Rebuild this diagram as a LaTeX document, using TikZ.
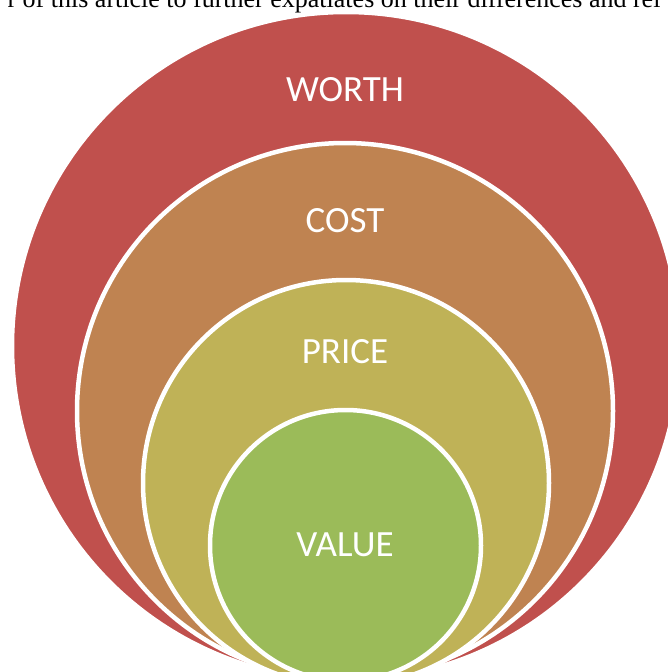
\documentclass[tikz,border=0pt]{standalone}
\usepackage{fontspec}
\setmainfont{Carlito}
\newfontfamily\serifline{Liberation Serif}
\definecolor{worthred}{RGB}{192,80,77}
\definecolor{costbrown}{RGB}{191,131,81}
\definecolor{priceolive}{RGB}{191,178,87}
\definecolor{valuegreen}{RGB}{155,187,89}
\begin{document}
\begin{tikzpicture}[x=1pt,y=-1pt,
  ring/.style={circle,draw=white,line width=4.5pt,inner sep=0pt,outer sep=0pt},
  lbl/.style={text=white,font=\fontsize{37}{40}\selectfont,inner sep=0pt}]
\useasboundingbox (0,0) rectangle (668,672);
\clip (0,0) rectangle (668,672);
\node[anchor=base,inner sep=0pt,font=\serifline\fontsize{26}{28}\selectfont] (topline) at (334,7) {r of this article to further expatiates on their differences and rel};
\node[ring,fill=worthred,minimum size=668pt] (worth) at (346,346) {};
\node[ring,fill=costbrown,minimum size=536pt] (cost) at (345,411) {};
\node[ring,fill=priceolive,minimum size=406pt] (price) at (346,483) {};
\node[ring,fill=valuegreen,minimum size=271pt] (value) at (345.5,545.5) {};
\node[lbl] (worthlbl) at (345,90) {WORTH};
\node[lbl] (costlbl) at (345,221) {COST};
\node[lbl] (pricelbl) at (345,352) {PRICE};
\node[lbl] (valuelbl) at (345,545) {VALUE};
\end{tikzpicture}
\end{document}
